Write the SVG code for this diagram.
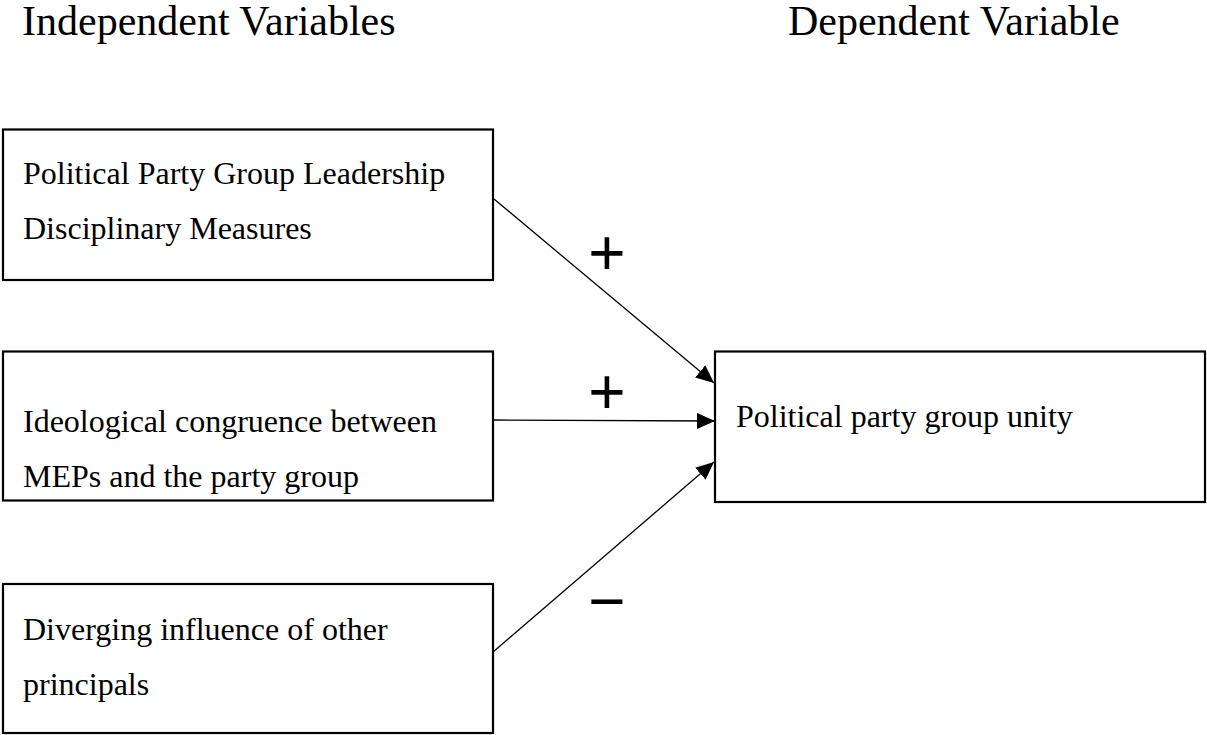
<svg xmlns="http://www.w3.org/2000/svg" width="1207" height="735" viewBox="0 0 1207 735">
<style>
.box{fill:#fff;stroke:#000;stroke-width:2.2}
.t{font-family:"Liberation Serif","Times New Roman",serif;font-size:32px;fill:#000}
.h{font-family:"Liberation Serif","Times New Roman",serif;font-size:42px;fill:#000}
.s{font-family:"Liberation Sans",Arial,sans-serif;font-size:64px;fill:#000;text-anchor:middle}
.c{stroke:#000;stroke-width:1.3;fill:none}
</style>
<defs>
<marker id="ah" markerUnits="userSpaceOnUse" markerWidth="18" markerHeight="18" viewBox="0 0 18 18" refX="18" refY="9" orient="auto">
<path d="M0,1 L18,9 L0,17 Z" fill="#000"/>
</marker>
</defs>
<rect width="1207" height="735" fill="#fff"/>
<text class="h" x="22" y="35">Independent Variables</text>
<text class="h" x="788" y="35">Dependent Variable</text>
<g id="n1">
<rect class="box" x="3" y="129.5" width="490" height="150.5"/>
<text class="t" x="23" y="184">Political Party Group Leadership</text>
<text class="t" x="23" y="239">Disciplinary Measures</text>
</g>
<g id="n2">
<rect class="box" x="3" y="351.5" width="490" height="149"/>
<text class="t" x="23" y="432">Ideological congruence between</text>
<text class="t" x="23" y="487">MEPs and the party group</text>
</g>
<g id="n3">
<rect class="box" x="3" y="584" width="490" height="149"/>
<text class="t" x="23" y="640">Diverging influence of other</text>
<text class="t" x="23" y="695">principals</text>
</g>
<g id="n4">
<rect class="box" x="715" y="351.5" width="490" height="150.5"/>
<text class="t" x="736" y="427">Political party group unity</text>
</g>
<g id="connectors">
<line class="c" x1="494" y1="199" x2="714" y2="383" marker-end="url(#ah)"/>
<line class="c" x1="493" y1="420" x2="715" y2="421" marker-end="url(#ah)"/>
<line class="c" x1="493" y1="652" x2="714" y2="462" marker-end="url(#ah)"/>
<text class="s" x="607" y="275">+</text>
<text class="s" x="607" y="414">+</text>
<text class="s" x="607" y="623">−</text>
</g>
</svg>
